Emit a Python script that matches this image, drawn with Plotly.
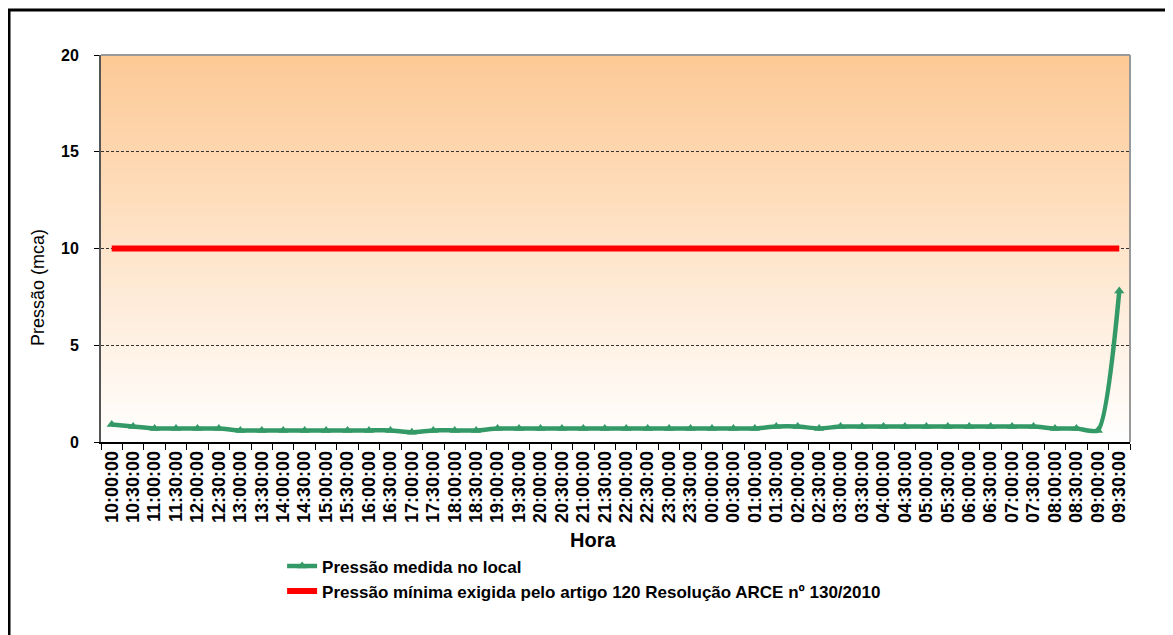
import plotly.graph_objects as go

horas = ["10:00:00", "10:30:00", "11:00:00", "11:30:00", "12:00:00", "12:30:00",
         "13:00:00", "13:30:00", "14:00:00", "14:30:00", "15:00:00", "15:30:00",
         "16:00:00", "16:30:00", "17:00:00", "17:30:00", "18:00:00", "18:30:00",
         "19:00:00", "19:30:00", "20:00:00", "20:30:00", "21:00:00", "21:30:00",
         "22:00:00", "22:30:00", "23:00:00", "23:30:00", "00:00:00", "00:30:00",
         "01:00:00", "01:30:00", "02:00:00", "02:30:00", "03:00:00", "03:30:00",
         "04:00:00", "04:30:00", "05:00:00", "05:30:00", "06:00:00", "06:30:00",
         "07:00:00", "07:30:00", "08:00:00", "08:30:00", "09:00:00", "09:30:00"]

pressao_medida = [0.9, 0.8, 0.7, 0.7, 0.7, 0.7,
                  0.6, 0.6, 0.6, 0.6, 0.6, 0.6,
                  0.6, 0.6, 0.5, 0.6, 0.6, 0.6,
                  0.7, 0.7, 0.7, 0.7, 0.7, 0.7,
                  0.7, 0.7, 0.7, 0.7, 0.7, 0.7,
                  0.7, 0.8, 0.8, 0.7, 0.8, 0.8,
                  0.8, 0.8, 0.8, 0.8, 0.8, 0.8,
                  0.8, 0.8, 0.7, 0.7, 0.6, 7.8]

pressao_minima = [10] * len(horas)

nome_medida = "Pressão medida no local"
nome_minima = "Pressão mínima exigida pelo artigo 120 Resolução ARCE nº 130/2010"
titulo_y = "Pressão (mca)"
titulo_x = "Hora"

FONT = "Liberation Sans, Arial, sans-serif"

fig = go.Figure()
fig.add_trace(go.Scatter(
    x=horas, y=pressao_medida, name=nome_medida, mode="lines+markers",
    line=dict(color="#339966", width=4.5, shape="spline", smoothing=0.6),
    marker=dict(symbol="triangle-up", size=9, color="#339966"),
))
fig.add_trace(go.Scatter(
    x=horas, y=pressao_minima, name=nome_minima, mode="lines",
    line=dict(color="#FF0000", width=6),
))

# gradient background bands
shapes = []
n = 120
top = (253, 201, 149)
bot = (255, 255, 255)
for i in range(n):
    t = (i + 0.5) / n  # 0 bottom -> 1 top
    c = tuple(round(bot[k] + (top[k] - bot[k]) * t) for k in range(3))
    shapes.append(dict(type="rect", xref="x domain", yref="y domain",
                       x0=0, x1=1, y0=i / n, y1=(i + 1) / n + 0.002,
                       fillcolor="rgb(%d,%d,%d)" % c, line=dict(width=0),
                       layer="below"))
# top and right plot borders (grey)
shapes.append(dict(type="line", xref="x domain", yref="y domain",
                   x0=0, x1=1, y0=1, y1=1, line=dict(color="#999999", width=2),
                   layer="below"))
shapes.append(dict(type="line", xref="x domain", yref="y domain",
                   x0=1, x1=1, y0=0, y1=1, line=dict(color="#999999", width=2),
                   layer="below"))
# outer black frame (extends past the picture on the right/bottom)
shapes.append(dict(type="rect", xref="paper", yref="paper",
                   x0=-0.0894, x1=1.08, y0=-0.6, y1=1.1163,
                   line=dict(color="black", width=3), fillcolor="rgba(0,0,0,0)"))

fig.update_layout(
    width=1165, height=627,
    margin=dict(l=93, r=43, t=47, b=193),
    paper_bgcolor="white", plot_bgcolor="rgba(0,0,0,0)",
    font=dict(family=FONT, color="black"),
    shapes=shapes,
    showlegend=True,
    legend=dict(x=0.176, y=-0.275, xanchor="left", yanchor="top",
                bgcolor="rgba(0,0,0,0)", orientation="v",
                font=dict(family=FONT, size=17, color="black", weight="bold"),
                tracegroupgap=0),
    annotations=[
        dict(text=titulo_y, xref="paper", yref="paper",
             x=-0.0612, y=0.398, xanchor="center", yanchor="middle",
             textangle=-90, showarrow=False,
             font=dict(family=FONT, size=18, color="black")),
        dict(text=titulo_x, xref="paper", yref="paper",
             x=0.478, y=-0.253, xanchor="center", yanchor="middle",
             showarrow=False,
             font=dict(family=FONT, size=20, color="black", weight="bold")),
    ],
)

fig.update_xaxes(
    type="category", showgrid=False, showline=True, linecolor="black", linewidth=1.5,
    ticks="outside", ticklen=6, tickcolor="black", tickson="boundaries",
    tickmode="array", tickvals=horas, ticktext=horas,
    tickangle=-90, tickfont=dict(family=FONT, size=18, color="black", weight="bold"),
    range=[-0.5, len(horas) - 0.5],
)
fig.update_yaxes(
    range=[0, 20], tickvals=[0, 5, 10, 15, 20],
    showline=True, linecolor="#555555", linewidth=2,
    ticks="outside", ticklen=5, tickcolor="black", ticklabelstandoff=12,
    showgrid=True, gridcolor="#333333", gridwidth=1, griddash="3px,2px",
    zeroline=False,
    tickfont=dict(family=FONT, size=16, color="black", weight="bold"),
)

fig.write_html("out.html")
